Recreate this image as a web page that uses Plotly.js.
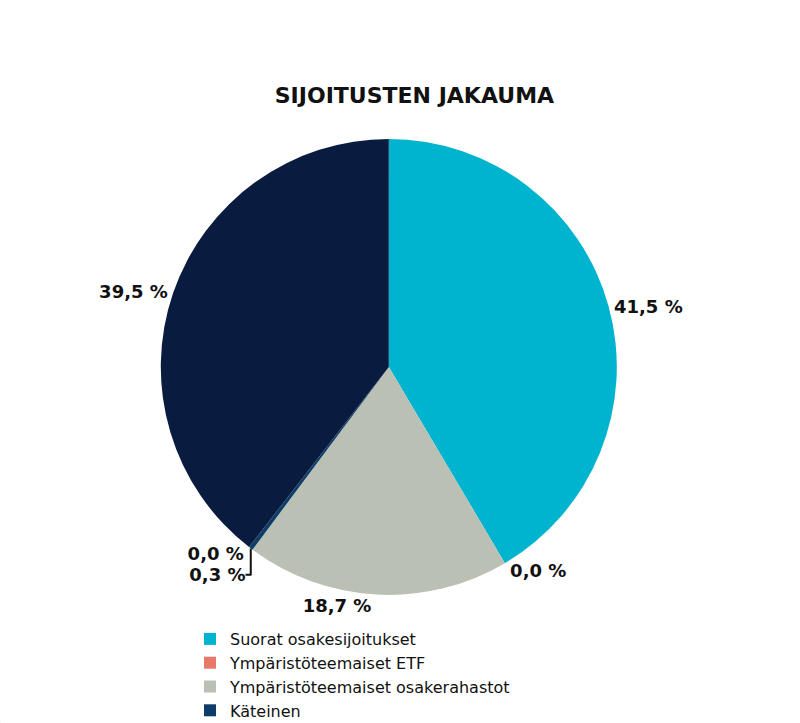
<!DOCTYPE html>
<html>
<head>
<meta charset="utf-8">
<script src="https://cdn.plot.ly/plotly-3.0.1.min.js"></script>
<style>
  html, body { margin: 0; padding: 0; background: #ffffff; }
  #graph { width: 800px; height: 723px; }
</style>
</head>
<body>
<div id="graph"></div>
<script>
// sijoitusten jakauma, %
const labels = [
  'Suorat osakesijoitukset',
  'Ympäristöteemaiset ETF',
  'Ympäristöteemaiset osakerahastot',
  'Käteinen',
  'Ympäristöteemaiset joukkolainat',
  'Muut sijoitukset'
];
const values = [41.5, 0.0, 18.7, 0.3, 0.0, 39.5];
const colors = ['#00B4CF', '#E8796A', '#BBC0B5', '#0D3C69', '#7F7F7F', '#0A1B40'];

// only the first four are shown in the legend
const legendCount = 4;

const FONT = 'DejaVu Sans, sans-serif';

const mainPie = {
  type: 'pie',
  labels: labels,
  values: values,
  marker: { colors: colors, line: { width: 0 } },
  sort: false,
  direction: 'clockwise',
  rotation: 0,
  textposition: 'outside',
  texttemplate: '%{value:.1f} %',
  textfont: { family: FONT, size: 18, color: '#111111', weight: 'bold' },
  outsidetextfont: { family: FONT, size: 18, color: '#111111', weight: 'bold' },
  automargin: false,
  showlegend: false,
  hoverinfo: 'label+value',
  domain: { x: [0.201, 0.771], y: [0.177, 0.808] }
};

// legend carrier: same labels, drawn too small to see
const legendPie = {
  type: 'pie',
  labels: labels.slice(0, legendCount),
  values: values.slice(0, legendCount).map(() => 1),
  marker: { colors: colors.slice(0, legendCount), line: { width: 0 } },
  sort: false,
  textinfo: 'none',
  hoverinfo: 'skip',
  showlegend: true,
  domain: { x: [0, 0.0005], y: [0, 0.0005] }
};

const layout = {
  width: 800,
  height: 723,
  margin: { l: 0, r: 0, t: 0, b: 0, autoexpand: false },
  paper_bgcolor: '#ffffff',
  separators: ', ',
  title: {
    text: 'SIJOITUSTEN JAKAUMA',
    font: { family: FONT, size: 22, color: '#111111', weight: 'bold' },
    x: 0.518,
    xanchor: 'center',
    y: 1 - 95 / 723,
    yanchor: 'middle'
  },
  legend: {
    x: 190 / 800,
    xanchor: 'left',
    y: 1 - 622 / 723,
    yanchor: 'top',
    font: { family: FONT, size: 16, color: '#111111' },
    itemwidth: 30,
    tracegroupgap: 0,
    bgcolor: 'rgba(0,0,0,0)'
  }
};

Plotly.newPlot('graph', [mainPie, legendPie], layout, { displayModeBar: false, staticPlot: true });
</script>
</body>
</html>
